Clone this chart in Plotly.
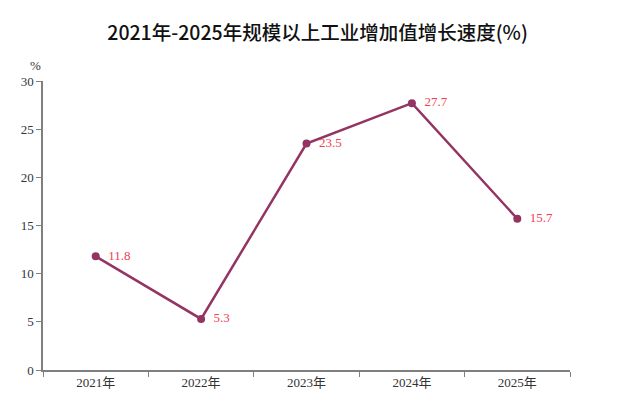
import plotly.graph_objects as go

years = ["2021年", "2022年", "2023年", "2024年", "2025年"]
growth = [11.8, 5.3, 23.5, 27.7, 15.7]
y_ticks = [0, 5, 10, 15, 20, 25, 30]

LINE_COLOR = "#943462"
LABEL_COLOR = "#f2404f"
AXIS_COLOR = "#7f7f7f"
SERIF = "Liberation Serif, DejaVu Serif, Noto Sans CJK SC, serif"

fig = go.Figure()
fig.add_trace(go.Scatter(
    x=years, y=growth, mode="lines+markers+text",
    line=dict(color=LINE_COLOR, width=2.5),
    marker=dict(color=LINE_COLOR, size=8),
    text=[f"\u00a0\u00a0{v:.1f}" for v in growth],
    textposition="middle right",
    textfont=dict(family=SERIF, size=13, color=LABEL_COLOR),
    cliponaxis=False, showlegend=False,
))

# page body has an 8px margin, so the margins are shifted by that
fig.update_layout(
    width=623, height=401,
    paper_bgcolor="white", plot_bgcolor="white",
    margin=dict(l=35, r=61, t=73, b=39),
    title=dict(
        text="2021年-2025年规模以上工业增加值增长速度(%)",
        x=0.521, xanchor="center", xref="paper", y=0.937, yanchor="middle",
        font=dict(family="Noto Sans CJK SC", size=19.5, color="#111111", weight=500),
    ),
)

fig.update_xaxes(
    range=[-0.5, 4.5], showgrid=False, zeroline=False, automargin=False,
    showline=True, linecolor=AXIS_COLOR, linewidth=1.5,
    ticks="outside", tickson="boundaries", ticklen=5, tickcolor=AXIS_COLOR,
    tickfont=dict(family=SERIF, size=13, color="#333333"),
)
fig.update_yaxes(
    range=[0, 30], tickvals=y_ticks, showgrid=False, zeroline=False, automargin=False,
    showline=True, linecolor=AXIS_COLOR, linewidth=1.5,
    ticks="outside", ticklen=5, tickcolor=AXIS_COLOR,
    tickfont=dict(family=SERIF, size=13, color="#333344"),
)

fig.add_annotation(
    text="%", xref="paper", yref="paper", x=0, y=1.0, yshift=16,
    xanchor="right", yanchor="middle", showarrow=False,
    font=dict(family=SERIF, size=13, color="#333333"),
)

fig.write_html("out.html")
